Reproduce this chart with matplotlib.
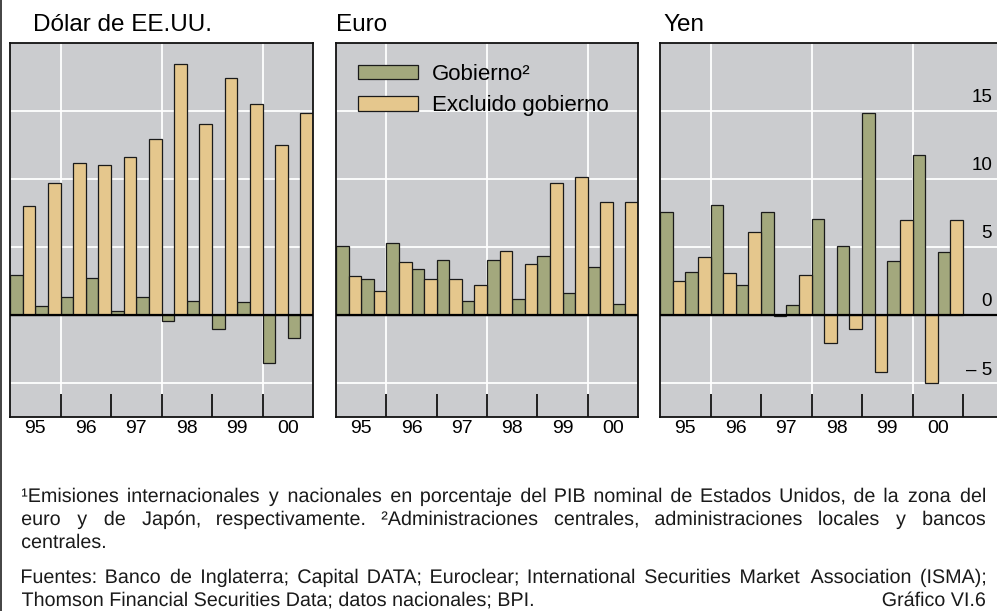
import numpy as np
import matplotlib
matplotlib.use("Agg")
import matplotlib.pyplot as plt
from matplotlib.patches import Patch, PathPatch
from matplotlib.lines import Line2D
from matplotlib.textpath import TextPath
from matplotlib.font_manager import FontProperties
from matplotlib.transforms import blended_transform_factory, Affine2D

plt.rcParams['font.family'] = ['Liberation Sans', 'DejaVu Sans']

# semestral data, 1995 H1 .. 2000 H2 (% of GDP)
years = ['95', '96', '97', '98', '99', '00']
titles = ['Dólar de EE.UU.', 'Euro', 'Yen']
usd_gov = [2.9, 0.6, 1.3, 2.7, 0.3, 1.3, -0.5, 1.0, -1.05, 0.9, -3.55, -1.75]
usd_ex = [8.0, 9.7, 11.15, 11.0, 11.6, 12.9, 18.4, 14.0, 17.4, 15.45, 12.45, 14.8]
eur_gov = [5.05, 2.65, 5.25, 3.35, 4.0, 1.0, 4.0, 1.15, 4.3, 1.6, 3.5, 0.8]
eur_ex = [2.85, 1.75, 3.85, 2.6, 2.65, 2.15, 4.65, 3.75, 9.65, 10.15, 8.25, 8.25]
jpy_gov = [7.55, 3.1, 8.05, 2.2, 7.55, 0.7, 7.05, 5.05, 14.85, 3.95, 11.7, 4.6]
jpy_ex = [2.5, 4.25, 3.05, 6.1, -0.1, 2.95, -2.05, -1.05, -4.25, 6.95, -5.05, 6.95]
y_ticks = [15, 10, 5, 0, -5]
y_labels = ['15', '10', '5', '0', '– 5']
legend_labels = ['Gobierno²', 'Excluido gobierno']

GREEN = '#a3a87d'
TAN = '#e5c78d'
BG = '#cbcccf'

W, H = 997, 611
fig = plt.figure(figsize=(W / 100, H / 100), dpi=100)

top, bottom = 42.5, 416.7
panels = [(10, 303), (336, 302), (660, 337)]
data = [(usd_gov, usd_ex), (eur_gov, eur_ex), (jpy_gov, jpy_ex)]
title_x = [33, 336, 663]

axes = []
for k, ((left, width), (gov, ex)) in enumerate(zip(panels, data)):
    ax = fig.add_axes([left / W, 1 - bottom / H, width / W, (bottom - top) / H])
    ax.set_facecolor(BG)
    n = len(gov)
    x = np.arange(n)
    ax.set_ylim(-7.5, 20)
    xmax = n * width / 303 if k == 2 else n
    ax.set_xlim(0, xmax)
    for v in [-5, 5, 10, 15]:
        ax.axhline(v, color='white', lw=1.3, zorder=0)
    for v in [2, 6, 10]:
        ax.axvline(v, color='white', lw=1.3, zorder=0)
    ax.bar(x + 0.25, gov, width=0.5, color=GREEN, edgecolor='#1a1a1a', lw=0.9, zorder=2)
    ax.bar(x + 0.75, ex, width=0.5, color=TAN, edgecolor='#1a1a1a', lw=0.9, zorder=2)
    ax.axhline(0, color='black', lw=1.6, zorder=3)

    major = [2, 4, 6, 8, 10] + ([12] if k == 2 else [])
    ax.set_xticks(major)
    ax.set_xticklabels([])
    ax.tick_params(axis='x', which='major', direction='in', length=16.3, width=1.3, color='#111111')
    ax.set_xticks(np.arange(1, n, 2), minor=True)
    ax.set_xticklabels(years, minor=True, fontsize=14)
    ax.tick_params(axis='x', which='minor', length=0, pad=2.5)
    ax.set_yticks([])
    for s in ax.spines.values():
        s.set_linewidth(1.3)
        s.set_color('#111111')
    if k == 2:
        ax.spines['right'].set_visible(False)
        tr = blended_transform_factory(ax.transAxes, ax.transData)
        for v, lab in zip(y_ticks, y_labels):
            ax.text((992 - left) / width, v + 0.6, lab, transform=tr, ha='right',
                    va='baseline', fontsize=13.5)
    fig.text(title_x[k] / W, 1 - 31 / H, titles[k], fontsize=17.5, va='baseline')
    axes.append(ax)

handles = [Patch(facecolor=GREEN, edgecolor='#1a1a1a', lw=0.9),
           Patch(facecolor=TAN, edgecolor='#1a1a1a', lw=0.9)]
axes[1].legend(handles, legend_labels, loc='upper left', bbox_to_anchor=(0.073, 0.943),
               frameon=False, fontsize=16, handlelength=2.7, handleheight=0.63,
               handletextpad=0.63, labelspacing=0.46, borderaxespad=0, borderpad=0)

# left border of the figure
fig.add_artist(Line2D([0.8 / W, 0.8 / W], [0, 1], transform=fig.transFigure,
                      color='#222222', lw=1.2))

# footnotes, drawn as text paths so that lines can be justified word by word
fs = 14.2
prop = FontProperties(family='Liberation Sans', size=fs)
px = 100 / 72


def put_path(s, xp, y):
    p = TextPath((0, 0), s, size=fs, prop=prop)
    e = p.get_extents()
    tf = Affine2D().translate(-e.x0, 0).scale(px).translate(xp, H - y)
    fig.add_artist(PathPatch(p, transform=tf, facecolor='#1a1a1a', lw=0))
    return e.width * px


def path_width(s):
    return TextPath((0, 0), s, size=fs, prop=prop).get_extents().width * px


def justify(line, y, x0=22, x1=985):
    words = line.split(' ')
    widths = [path_width(w) for w in words]
    gap = (x1 - x0 - sum(widths)) / (len(words) - 1)
    xp = x0
    for w, wd in zip(words, widths):
        put_path(w, xp, y)
        xp += wd + gap


justify('¹Emisiones internacionales y nacionales en porcentaje del PIB nominal de '
        'Estados Unidos, de la zona del', 502)
justify('euro y de Japón, respectivamente. ²Administraciones centrales, '
        'administraciones locales y bancos', 525)
put_path('centrales.', 22, 548)
justify('Fuentes: Banco de Inglaterra; Capital DATA; Euroclear; International '
        'Securities Market Association (ISMA);', 583)
put_path('Thomson Financial Securities Data; datos nacionales; BPI.', 22, 606)
put_path('Gráfico VI.6', 985 - path_width('Gráfico VI.6'), 606)

fig.savefig('out.png', dpi=100)
